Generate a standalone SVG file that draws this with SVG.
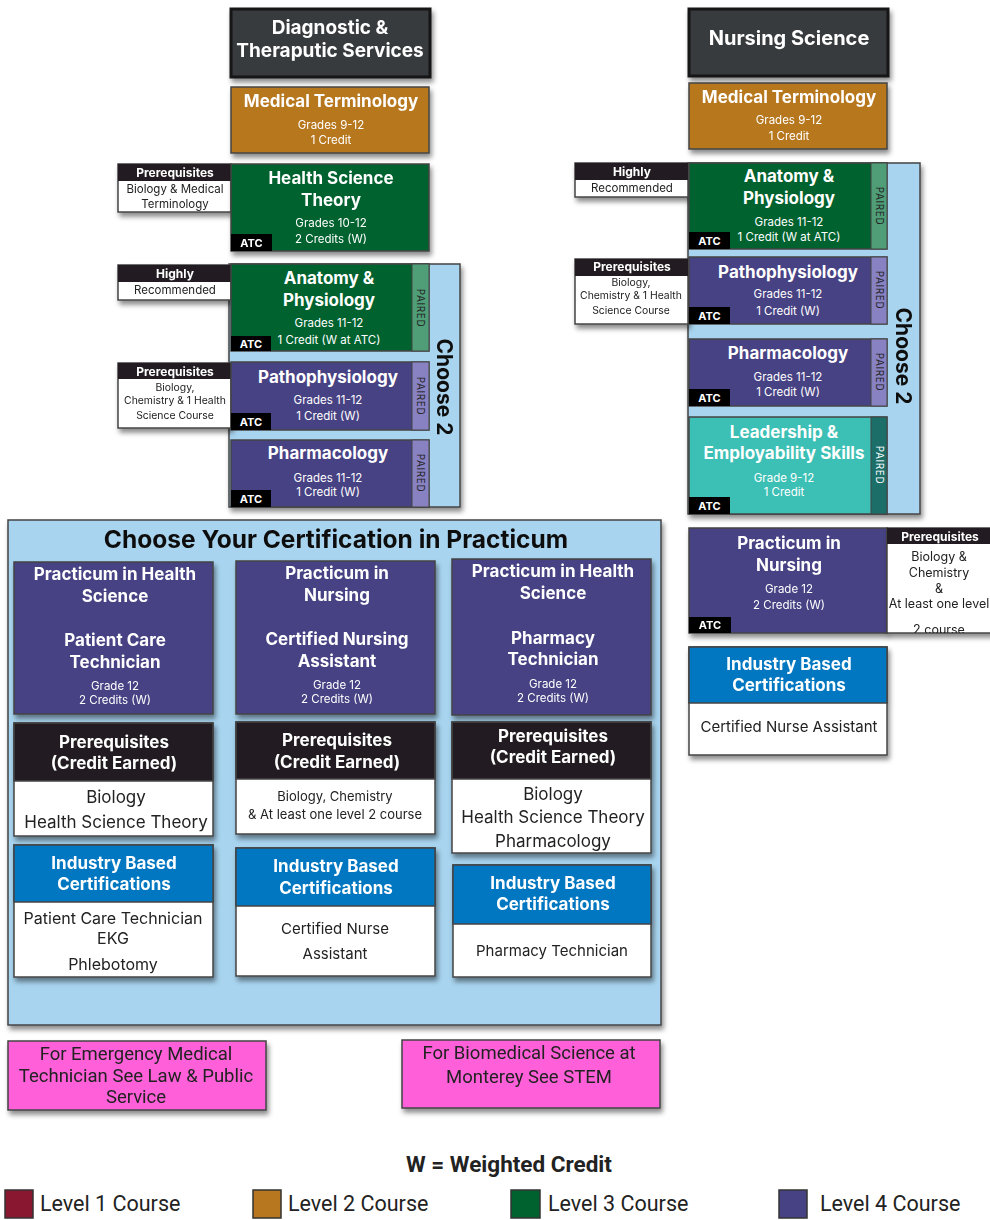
<svg xmlns="http://www.w3.org/2000/svg" width="990" height="1220" viewBox="0 0 990 1220">
<defs>
<filter id="sh" x="-10%" y="-10%" width="130%" height="140%"><feDropShadow dx="2" dy="4" stdDeviation="2.5" flood-color="#000" flood-opacity="0.45"/></filter>
<clipPath id="clipR"><rect x="887" y="528" width="103" height="105"/></clipPath>
<style>
text{font-family:Inter,"Liberation Sans",sans-serif;text-anchor:middle;fill:#fff}
.hd{font-size:19px;font-weight:700}
.ti{font-size:17px;font-weight:700}
.sm{font-size:11.5px}
.atc{font-size:11px;font-weight:700}
.pr{font-size:12px;font-weight:700}
.pb{font-size:11.5px;fill:#222}
.pc{font-size:10.4px;fill:#222}
.pa{font-size:10px;fill:#222;letter-spacing:0.6px}
.ch{font-size:21px;font-weight:700;fill:#111}
.bk{fill:#222}
.box{stroke:#444;stroke-width:1.5}
.hdr{fill:#373b3d;stroke:#161616;stroke-width:3}
.l2{fill:#b7771f}
.l3{fill:#00622e}
.l4{fill:#474283}
.s3{fill:#4f9e77;stroke:#444;stroke-width:1}
.s4{fill:#8882c2;stroke:#444;stroke-width:1}
.blk{fill:#231f20}
.wht{fill:#fff}
.lb{fill:#a8d4ef;stroke:#444;stroke-width:1.5}
.ibc{fill:#0077c0}
.pink{fill:#ff61d9}
.leg{font-family:Roboto,"Liberation Sans",sans-serif;font-size:21.5px;text-anchor:start;fill:#222}
.pk{font-family:Roboto,"Liberation Sans",sans-serif;font-size:18.5px;fill:#222}
</style>
</defs>

<!-- LEFT COLUMN -->
<g id="hdr-left" filter="url(#sh)">
<rect class="hdr" x="231" y="9" width="199" height="68"/>
<text class="hd" x="330" y="34">Diagnostic &amp;</text>
<text class="hd" x="330" y="57">Theraputic Services</text>
</g>
<g id="medterm-left" filter="url(#sh)">
<rect class="box l2" x="231" y="87" width="198" height="66"/>
<text class="ti" x="331" y="107">Medical Terminology</text>
<text class="sm" x="331" y="129">Grades 9-12</text>
<text class="sm" x="331" y="144">1 Credit</text>
</g>
<g id="prereq-hst" filter="url(#sh)">
<rect class="box wht" x="118" y="164" width="113" height="48"/>
<rect class="blk" x="118" y="164" width="113" height="17"/>
<text class="pr" x="175" y="177">Prerequisites</text>
<text class="pb" x="175" y="193">Biology &amp; Medical</text>
<text class="pb" x="175" y="208">Terminology</text>
</g>
<g id="hst" filter="url(#sh)">
<rect class="box l3" x="231" y="164" width="198" height="87"/>
<text class="ti" x="331" y="184">Health Science</text>
<text class="ti" x="331" y="206">Theory</text>
<text class="sm" x="331" y="227">Grades 10-12</text>
<text class="sm" x="331" y="243">2 Credits (W)</text>
<rect fill="#000" x="231" y="234" width="41" height="17"/>
<text class="atc" x="251.5" y="247">ATC</text>
</g>

<g id="choose2-left" filter="url(#sh)">
<rect class="lb" x="229" y="264" width="231" height="243"/>
<text class="ch" transform="translate(437,387) rotate(90)">Choose 2</text>
</g>
<g id="highly-left" filter="url(#sh)">
<rect class="box wht" x="118" y="265" width="113" height="35"/>
<rect class="blk" x="118" y="265" width="113" height="17"/>
<text class="pr" x="175" y="278">Highly</text>
<text class="pb" x="175" y="294">Recommended</text>
</g>
<g id="ap-left">
<rect class="box l3" x="231" y="264" width="198" height="87"/>
<rect class="s3" x="412" y="264" width="17" height="87"/>
<text class="pa" transform="translate(417,308) rotate(90)">PAIRED</text>
<text class="ti" x="329" y="284">Anatomy &amp;</text>
<text class="ti" x="329" y="306">Physiology</text>
<text class="sm" x="329" y="327">Grades 11-12</text>
<text class="sm" x="329" y="344">1 Credit (W at ATC)</text>
<rect fill="#000" x="231" y="336" width="40" height="15"/>
<text class="atc" x="251" y="348">ATC</text>
</g>
<g id="prereq-patho-left" filter="url(#sh)">
<rect class="box wht" x="118" y="363" width="113" height="65"/>
<rect class="blk" x="118" y="363" width="113" height="16"/>
<text class="pr" x="175" y="376">Prerequisites</text>
<text class="pc" x="175" y="391">Biology,</text>
<text class="pc" x="175" y="404">Chemistry &amp; 1 Health</text>
<text class="pc" x="175" y="419">Science Course</text>
</g>
<g id="patho-left">
<rect class="box l4" x="231" y="362" width="198" height="68"/>
<rect class="s4" x="412" y="362" width="17" height="68"/>
<text class="pa" transform="translate(417,396) rotate(90)">PAIRED</text>
<text class="ti" x="328" y="383">Pathophysiology</text>
<text class="sm" x="328" y="404">Grades 11-12</text>
<text class="sm" x="328" y="420">1 Credit (W)</text>
<rect fill="#000" x="231" y="413" width="40" height="17"/>
<text class="atc" x="251" y="426">ATC</text>
</g>
<g id="pharm-left">
<rect class="box l4" x="231" y="440" width="198" height="67"/>
<rect class="s4" x="412" y="440" width="17" height="67"/>
<text class="pa" transform="translate(417,473) rotate(90)">PAIRED</text>
<text class="ti" x="328" y="459">Pharmacology</text>
<text class="sm" x="328" y="482">Grades 11-12</text>
<text class="sm" x="328" y="496">1 Credit (W)</text>
<rect fill="#000" x="231" y="490" width="40" height="17"/>
<text class="atc" x="251" y="503">ATC</text>
</g>

<!-- RIGHT COLUMN -->
<g id="hdr-right" filter="url(#sh)">
<rect class="hdr" x="689" y="9" width="199" height="67"/>
<text class="hd" x="789" y="45" style="font-size:20px">Nursing Science</text>
</g>
<g id="medterm-right" filter="url(#sh)">
<rect class="box l2" x="689" y="83" width="198" height="66"/>
<text class="ti" x="789" y="103">Medical Terminology</text>
<text class="sm" x="789" y="124">Grades 9-12</text>
<text class="sm" x="789" y="140">1 Credit</text>
</g>
<g id="choose2-right" filter="url(#sh)">
<rect class="lb" x="688" y="163" width="232" height="351"/>
<text class="ch" transform="translate(896,356) rotate(90)">Choose 2</text>
</g>
<g id="highly-right" filter="url(#sh)">
<rect class="box wht" x="575" y="163" width="113" height="34"/>
<rect class="blk" x="575" y="163" width="113" height="17"/>
<text class="pr" x="632" y="176">Highly</text>
<text class="pb" x="632" y="192">Recommended</text>
</g>
<g id="ap-right">
<rect class="box l3" x="689" y="163" width="198" height="86"/>
<rect class="s3" x="871" y="163" width="16" height="86"/>
<text class="pa" transform="translate(876,206) rotate(90)">PAIRED</text>
<text class="ti" x="789" y="182">Anatomy &amp;</text>
<text class="ti" x="789" y="204">Physiology</text>
<text class="sm" x="789" y="226">Grades 11-12</text>
<text class="sm" x="789" y="241">1 Credit (W at ATC)</text>
<rect fill="#000" x="689" y="232" width="41" height="17"/>
<text class="atc" x="709.5" y="245">ATC</text>
</g>
<g id="prereq-patho-right" filter="url(#sh)">
<rect class="box wht" x="575" y="259" width="113" height="65"/>
<rect class="blk" x="575" y="259" width="113" height="17"/>
<text class="pr" x="632" y="271">Prerequisites</text>
<text class="pc" x="631" y="286">Biology,</text>
<text class="pc" x="631" y="299">Chemistry &amp; 1 Health</text>
<text class="pc" x="631" y="314">Science Course</text>
</g>
<g id="patho-right">
<rect class="box l4" x="689" y="257" width="198" height="67"/>
<rect class="s4" x="871" y="257" width="16" height="67"/>
<text class="pa" transform="translate(876,290) rotate(90)">PAIRED</text>
<text class="ti" x="788" y="278">Pathophysiology</text>
<text class="sm" x="788" y="298">Grades 11-12</text>
<text class="sm" x="788" y="315">1 Credit (W)</text>
<rect fill="#000" x="689" y="307" width="41" height="17"/>
<text class="atc" x="709.5" y="320">ATC</text>
</g>
<g id="pharm-right">
<rect class="box l4" x="689" y="339" width="198" height="67"/>
<rect class="s4" x="871" y="339" width="16" height="67"/>
<text class="pa" transform="translate(876,372) rotate(90)">PAIRED</text>
<text class="ti" x="788" y="359">Pharmacology</text>
<text class="sm" x="788" y="381">Grades 11-12</text>
<text class="sm" x="788" y="396">1 Credit (W)</text>
<rect fill="#000" x="689" y="389" width="41" height="17"/>
<text class="atc" x="709.5" y="402">ATC</text>
</g>
<g id="leadership">
<rect class="box" fill="#3cbfb4" x="689" y="417" width="198" height="97"/>
<rect fill="#1c6e69" stroke="#444" x="871" y="417" width="16" height="97"/>
<text class="pa" transform="translate(876,465) rotate(90)" style="fill:#fff">PAIRED</text>
<text class="ti" x="784" y="438">Leadership &amp;</text>
<text class="ti" x="784" y="459">Employability Skills</text>
<text class="sm" x="784" y="482">Grade 9-12</text>
<text class="sm" x="784" y="496">1 Credit</text>
<rect fill="#000" x="689" y="497" width="41" height="17"/>
<text class="atc" x="709.5" y="510">ATC</text>
</g>
<g id="practicum-nursing-right" filter="url(#sh)">
<rect class="box l4" x="689" y="528" width="198" height="105"/>
<text class="ti" x="789" y="549">Practicum in</text>
<text class="ti" x="789" y="571">Nursing</text>
<text class="sm" x="789" y="593">Grade 12</text>
<text class="sm" x="789" y="609">2 Credits (W)</text>
<rect fill="#000" x="689" y="617" width="42" height="16"/>
<text class="atc" x="710" y="629">ATC</text>
</g>
<g id="prereq-practicum-right" filter="url(#sh)">
<rect class="box wht" x="887" y="528" width="106" height="105"/>
<rect class="blk" x="887" y="528" width="106" height="16"/>
<text class="pr" x="940" y="541">Prerequisites</text>
<g clip-path="url(#clipR)">
<text class="pb" x="939" y="561" style="font-size:12.5px">Biology &amp;</text>
<text class="pb" x="939" y="577" style="font-size:12.5px">Chemistry</text>
<text class="pb" x="939" y="593" style="font-size:12.5px">&amp;</text>
<text class="pb" x="939" y="608" style="font-size:12.5px">At least one level</text>
<text class="pb" x="939" y="634" style="font-size:12.5px">2 course</text>
</g>
</g>
<g id="ibc-right" filter="url(#sh)">
<rect class="box wht" x="689" y="647" width="198" height="108"/>
<rect class="box ibc" x="689" y="647" width="198" height="56"/>
<text class="ti" x="789" y="670">Industry Based</text>
<text class="ti" x="789" y="691">Certifications</text>
<text class="bk" x="789" y="732" style="font-size:15px">Certified Nurse Assistant</text>
</g>

<!-- PRACTICUM SECTION -->
<g id="practicum-section" filter="url(#sh)">
<rect class="lb" x="8" y="520" width="653" height="505"/>
<text x="336" y="548" style="font-size:24.5px;font-weight:700;fill:#111">Choose Your Certification in Practicum</text>
</g>
<g id="card-pct" filter="url(#sh)">
<rect class="box l4" x="14" y="562" width="199" height="152"/>
<text class="ti" x="115" y="580">Practicum in Health</text>
<text class="ti" x="115" y="602">Science</text>
<text class="ti" x="115" y="646">Patient Care</text>
<text class="ti" x="115" y="668">Technician</text>
<text class="sm" x="115" y="690">Grade 12</text>
<text class="sm" x="115" y="704">2 Credits (W)</text>
</g>
<g id="card-cna" filter="url(#sh)">
<rect class="box l4" x="236" y="561" width="199" height="153"/>
<text class="ti" x="337" y="579">Practicum in</text>
<text class="ti" x="337" y="601">Nursing</text>
<text class="ti" x="337" y="645">Certified Nursing</text>
<text class="ti" x="337" y="667">Assistant</text>
<text class="sm" x="337" y="689">Grade 12</text>
<text class="sm" x="337" y="703">2 Credits (W)</text>
</g>
<g id="card-pharm" filter="url(#sh)">
<rect class="box l4" x="452" y="559" width="199" height="156"/>
<text class="ti" x="553" y="577">Practicum in Health</text>
<text class="ti" x="553" y="599">Science</text>
<text class="ti" x="553" y="644">Pharmacy</text>
<text class="ti" x="553" y="665">Technician</text>
<text class="sm" x="553" y="688">Grade 12</text>
<text class="sm" x="553" y="702">2 Credits (W)</text>
</g>
<g id="prereq-pct" filter="url(#sh)">
<rect class="box wht" x="14" y="723" width="199" height="113"/>
<rect class="box blk" x="14" y="723" width="199" height="58"/>
<text class="ti" x="114" y="748">Prerequisites</text>
<text class="ti" x="114" y="769">(Credit Earned)</text>
<text class="bk" x="116" y="803" style="font-size:17px">Biology</text>
<text class="bk" x="116" y="828" style="font-size:17px">Health Science Theory</text>
</g>
<g id="prereq-cna" filter="url(#sh)">
<rect class="box wht" x="236" y="722" width="199" height="112"/>
<rect class="box blk" x="236" y="722" width="199" height="57"/>
<text class="ti" x="337" y="746">Prerequisites</text>
<text class="ti" x="337" y="768">(Credit Earned)</text>
<text class="bk" x="335" y="801" style="font-size:13px">Biology, Chemistry</text>
<text class="bk" x="335" y="819" style="font-size:13px">&amp; At least one level 2 course</text>
</g>
<g id="prereq-pharm" filter="url(#sh)">
<rect class="box wht" x="452" y="722" width="199" height="131"/>
<rect class="box blk" x="452" y="722" width="199" height="57"/>
<text class="ti" x="553" y="742">Prerequisites</text>
<text class="ti" x="553" y="763">(Credit Earned)</text>
<text class="bk" x="553" y="800" style="font-size:17px">Biology</text>
<text class="bk" x="553" y="823" style="font-size:17px">Health Science Theory</text>
<text class="bk" x="553" y="847" style="font-size:17px">Pharmacology</text>
</g>
<g id="ibc-pct" filter="url(#sh)">
<rect class="box wht" x="14" y="845" width="199" height="132"/>
<rect class="box ibc" x="14" y="845" width="199" height="57"/>
<text class="ti" x="114" y="869">Industry Based</text>
<text class="ti" x="114" y="890">Certifications</text>
<text class="bk" x="113" y="924" style="font-size:16px">Patient Care Technician</text>
<text class="bk" x="113" y="944" style="font-size:16px">EKG</text>
<text class="bk" x="113" y="970" style="font-size:16px">Phlebotomy</text>
</g>
<g id="ibc-cna" filter="url(#sh)">
<rect class="box wht" x="236" y="848" width="199" height="128"/>
<rect class="box ibc" x="236" y="848" width="199" height="58"/>
<text class="ti" x="336" y="872">Industry Based</text>
<text class="ti" x="336" y="894">Certifications</text>
<text class="bk" x="335" y="934" style="font-size:15px">Certified Nurse</text>
<text class="bk" x="335" y="959" style="font-size:15px">Assistant</text>
</g>
<g id="ibc-pharm" filter="url(#sh)">
<rect class="box wht" x="453" y="865" width="198" height="112"/>
<rect class="box ibc" x="453" y="865" width="198" height="59"/>
<text class="ti" x="553" y="889">Industry Based</text>
<text class="ti" x="553" y="910">Certifications</text>
<text class="bk" x="552" y="956" style="font-size:15px">Pharmacy Technician</text>
</g>

<!-- NOTES -->
<g id="note-emt" filter="url(#sh)">
<rect class="box pink" x="8" y="1041" width="258" height="69"/>
<text class="pk" x="136" y="1060">For Emergency Medical</text>
<text class="pk" x="136" y="1082">Technician See Law &amp; Public</text>
<text class="pk" x="136" y="1103">Service</text>
</g>
<g id="note-biomed" filter="url(#sh)">
<rect class="box pink" x="402" y="1040" width="258" height="68"/>
<text class="pk" x="529" y="1059">For Biomedical Science at</text>
<text class="pk" x="529" y="1083">Monterey See STEM</text>
</g>

<!-- LEGEND -->
<g id="legend">
<text x="509" y="1172" style="font-family:Roboto,'Liberation Sans',sans-serif;font-size:22.5px;font-weight:700;fill:#222">W = Weighted Credit</text>
<rect x="5" y="1190" width="28" height="28" fill="#8a1730" stroke="#333" stroke-width="1.5"/>
<text class="leg" x="40" y="1211">Level 1 Course</text>
<rect x="253" y="1190" width="28" height="28" fill="#b7771f" stroke="#333" stroke-width="1.5"/>
<text class="leg" x="288" y="1211">Level 2 Course</text>
<rect x="511" y="1190" width="29" height="28" fill="#00622e" stroke="#333" stroke-width="1.5"/>
<text class="leg" x="548" y="1211">Level 3 Course</text>
<rect x="779" y="1190" width="28" height="28" fill="#474283" stroke="#333" stroke-width="1.5"/>
<text class="leg" x="820" y="1211">Level 4 Course</text>
</g>
<g id="connectors"></g>
</svg>
